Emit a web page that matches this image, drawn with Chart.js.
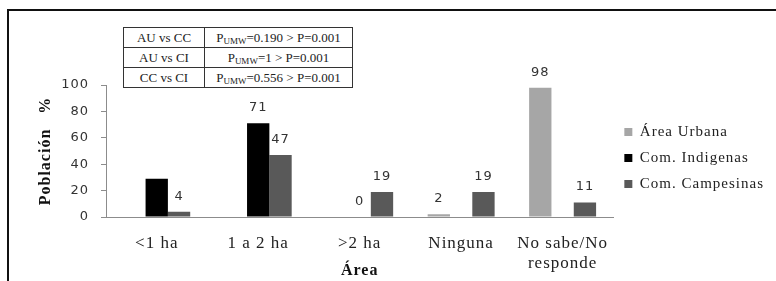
<!DOCTYPE html>
<html>
<head>
<meta charset="utf-8">
<script src="https://cdn.jsdelivr.net/npm/chart.js@4"></script>
<style>
  body { margin: 0; background: #fff; }
  #wrap { position: relative; width: 776px; height: 281px; overflow: hidden; }
  #frame { position: absolute; left: 7px; top: 9px; width: 800px; height: 300px;
           border-left: 2px solid #111; border-top: 2px solid #111; }
  #stats { position: absolute; left: 123px; top: 27px; border-collapse: collapse;
           font-family: "Liberation Serif"; font-size: 13px; color: #222; background: #fff; }
  #stats td { border: 1px solid #333; height: 19px; padding: 0 3px; text-align: center; white-space: nowrap; }
  #stats td:first-child { width: 74px; }
  #stats td:last-child { width: 141px; }
  #stats sub { font-size: 9px; vertical-align: -2px; }
</style>
</head>
<body>
<div id="wrap">
  <canvas id="chart" width="776" height="281"></canvas>
  <div id="frame"></div>
  <table id="stats">
    <tr><td>AU vs CC</td><td>P<sub>UMW</sub>=0.190 &gt; P=0.001</td></tr>
    <tr><td>AU vs CI</td><td>P<sub>UMW</sub>=1 &gt; P=0.001</td></tr>
    <tr><td>CC vs CI</td><td>P<sub>UMW</sub>=0.556 &gt; P=0.001</td></tr>
  </table>
</div>
<script>
const categories = ['<1 ha', '1 a 2 ha', '>2 ha', 'Ninguna', ['No sabe/No', 'responde']];
const areaUrbana = [null, null, null, 2, 98];
const comIndigenas = [29, 71, 0, null, null];
const comCampesinas = [4, 47, 19, 19, 11];
// the <1 ha bar of Com. Indigenas carries no value label in the original
const indigenasNoLabel = [0];

// the original text is set loosely, so widen every glyph a little
const looseText = {
  id: 'looseText',
  beforeUpdate(chart) { chart.ctx.letterSpacing = '1px'; }
};

const valueLabels = {
  id: 'valueLabels',
  afterDatasetsDraw(chart) {
    const ctx = chart.ctx;
    ctx.save();
    ctx.font = '13px "DejaVu Sans"';
    ctx.fillStyle = '#333';
    ctx.textAlign = 'center';
    ctx.textBaseline = 'alphabetic';
    chart.data.datasets.forEach((ds, di) => {
      chart.getDatasetMeta(di).data.forEach((bar, i) => {
        const v = ds.data[i];
        if (v === null || (ds.noLabel || []).includes(i)) return;
        ctx.fillText(v, bar.x, bar.y - 12);
      });
    });
    ctx.restore();
  }
};

new Chart(document.getElementById('chart').getContext('2d'), {
  type: 'bar',
  data: {
    labels: categories,
    datasets: [
      { label: 'Área Urbana', data: areaUrbana, backgroundColor: '#a6a6a6' },
      { label: 'Com. Indigenas', data: comIndigenas, backgroundColor: '#000000', noLabel: indigenasNoLabel },
      { label: 'Com. Campesinas', data: comCampesinas, backgroundColor: '#595959' }
    ]
  },
  options: {
    responsive: false,
    animation: false,
    datasets: { bar: { barPercentage: 1, categoryPercentage: 0.66 } },
    layout: { padding: { left: 10, top: 85, right: 2, bottom: 0 } },
    plugins: {
      tooltip: { enabled: false },
      legend: {
        position: 'right',
        fullSize: false,
        title: { display: true, text: '', padding: 0, font: { size: 14, lineHeight: 1 } },
        labels: {
          boxWidth: 8, boxHeight: 8, padding: 11, color: '#222',
          font: { family: 'Liberation Serif', size: 15 }
        }
      }
    },
    scales: {
      x: {
        grid: { display: false },
        border: { display: true, color: '#8c8c8c', width: 1 },
        ticks: { color: '#222', padding: 8, maxRotation: 0, autoSkip: false,
                 font: { family: 'Liberation Serif', size: 17, lineHeight: 1.2 } },
        title: { display: true, text: 'Área', color: '#111', padding: { top: 0, bottom: 1 },
                 font: { family: 'Liberation Serif', size: 16, weight: 'bold' } },
        afterFit(scale) { scale.height = 64; }
      },
      y: {
        min: 0, max: 100,
        grid: { display: true, drawOnChartArea: false, drawTicks: true, tickLength: 5, color: '#8c8c8c' },
        border: { display: true, color: '#8c8c8c', width: 1 },
        ticks: { stepSize: 20, color: '#333', padding: 12,
                 font: { family: 'DejaVu Sans', size: 13 } },
        title: { display: true, text: 'Población   %', color: '#111', padding: { top: 26, bottom: 0 },
                 font: { family: 'Liberation Serif', size: 16, weight: 'bold' } },
        afterFit(scale) { scale.width = 96; }
      }
    }
  },
  plugins: [looseText, valueLabels]
});
</script>
</body>
</html>
